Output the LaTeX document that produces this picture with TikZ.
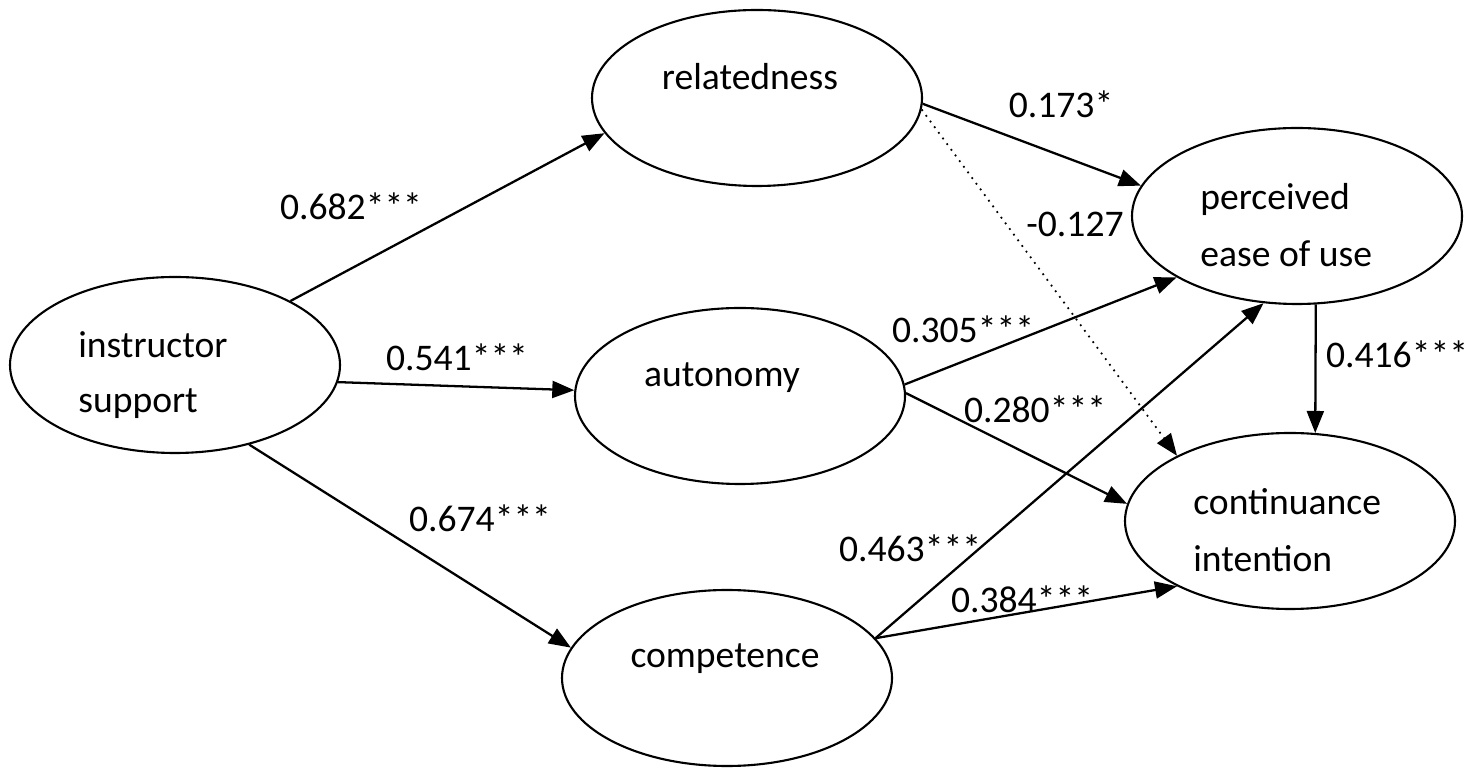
\documentclass[tikz,border=0pt]{standalone}
\usepackage{fontspec}
\setmainfont{Carlito}
\usetikzlibrary{shapes.geometric, arrows.meta}

\tikzset{
  construct/.style={draw, ellipse, line width=1.2pt, minimum width=6.6cm, minimum height=3.52cm, inner sep=0pt},
  cname/.style={font=\fontsize{21.4pt}{26pt}\selectfont, inner sep=0pt},
  weight/.style={font=\fontsize{21.4pt}{26pt}\selectfont, inner sep=0pt, anchor=base},
  effect/.style={line width=1.3pt, -{Triangle[length=0.44cm, width=0.34cm]}},
  noeffect/.style={line width=1pt, dash pattern=on 1pt off 3pt, -{Triangle[length=0.44cm, width=0.34cm]}}
}

\begin{document}
\begin{tikzpicture}
    \useasboundingbox (0,0) rectangle (29.54,15.62);

    % Draw constructs
    \node[construct] (inst) at (3.50,8.32) {};
    \node[construct] (rel)  at (15.14,13.66) {};
    \node[construct] (auto) at (14.80,7.70) {};
    \node[construct] (comp) at (14.54,2.06) {};
    \node[construct] (perc) at (25.94,11.30) {};
    \node[construct] (cont) at (25.80,5.20) {};

    % Construct names
    \node[cname, anchor=base west] (instA) at (1.56,8.46) {instructor};
    \node[cname, anchor=base west] (instB) at (1.56,7.36) {support};
    \node[cname, anchor=base] (relA) at (15.00,13.82) {relatedness};
    \node[cname, anchor=base] (autoA) at (14.44,7.88) {autonomy};
    \node[cname, anchor=base] (compA) at (14.50,2.26) {competence};
    \node[cname, anchor=base west] (percA) at (24.00,11.42) {perceived};
    \node[cname, anchor=base west] (percB) at (24.00,10.28) {ease of use};
    \node[cname, anchor=base west] (contA) at (23.86,5.32) {continuance};
    \node[cname, anchor=base west] (contB) at (23.86,4.18) {intention};

    % Draw paths
    \foreach \a/\b in {inst.29/rel.193, inst.-6.5/auto.178, inst.-47/comp.169,
                       rel.-2/perc.169.5, auto.4.5/perc.207, auto.1/cont.174,
                       comp.15.5/perc.249, comp.15/cont.210, perc.-78.8/cont.74.6} {
      \draw[effect] (\a) -- (\b);
    }
    \draw[noeffect] (rel.-4) -- (cont.150);

    % Path coefficients
    \foreach \n/\x/\y/\w in {w1/7.02/11.22/0.682***, w2/9.14/8.20/0.541***, w3/9.60/4.98/0.674***,
                             w4/21.22/13.26/0.173*, w5/21.50/10.88/-0.127, w6/19.26/8.76/0.305***,
                             w7/20.70/7.16/0.280***, w8/18.20/4.38/0.463***, w9/20.44/3.36/0.384***,
                             w10/27.94/8.26/0.416***} {
      \node[weight] (\n) at (\x,\y) {\w};
    }

\end{tikzpicture}
\end{document}
